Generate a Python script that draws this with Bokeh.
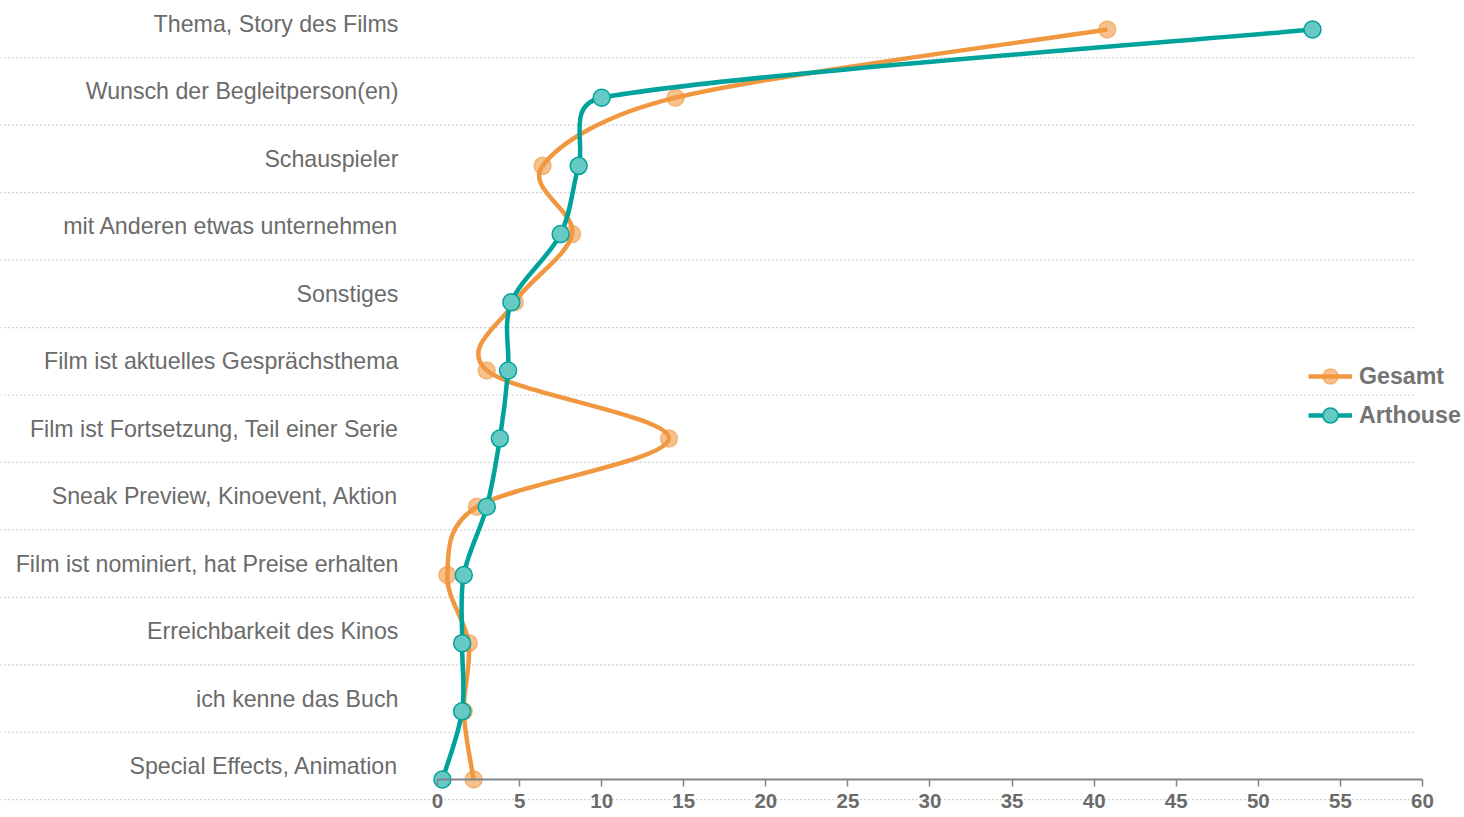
import math
from bokeh.plotting import figure
from bokeh.models import Range1d, LinearAxis, FixedTicker, Legend, LegendItem
from bokeh.core.properties import value
from bokeh.embed import file_html
from bokeh.resources import INLINE

# ---------------- data ----------------
categories = [
    "Thema, Story des Films",
    "Wunsch der Begleitperson(en)",
    "Schauspieler",
    "mit Anderen etwas unternehmen",
    "Sonstiges",
    "Film ist aktuelles Gesprächsthema",
    "Film ist Fortsetzung, Teil einer Serie",
    "Sneak Preview, Kinoevent, Aktion",
    "Film ist nominiert, hat Preise erhalten",
    "Erreichbarkeit des Kinos",
    "ich kenne das Buch",
    "Special Effects, Animation",
]
gesamt = [40.8, 14.5, 6.4, 8.2, 4.7, 3.0, 14.1, 2.4, 0.6, 1.9, 1.6, 2.2]
arthouse = [53.3, 10.0, 8.6, 7.5, 4.5, 4.3, 3.8, 3.0, 1.6, 1.5, 1.5, 0.3]
series_names = ["Gesamt", "Arthouse"]
x_ticks = [0, 5, 10, 15, 20, 25, 30, 35, 40, 45, 50, 55, 60]

# ---------------- styles ----------------
ORANGE = "#F0973F"
TEAL = "#00A39B"
TEAL_FILL = "#66C9C3"
GREY_TXT = "#6B6B6B"
AXIS_GREY = "#80858B"
GRID_GREY = "#A8A8A8"
FONT = "Liberation Sans"

W, H = 1464, 817
n = len(categories)
rows = list(range(n))

X0, X1 = -26.62, 62.56          # data x range
Y_BOT, Y_TOP = 11.557, -0.4253   # point rows (inverted)
SX = W / (X1 - X0)               # px per x unit
SY = H / (Y_BOT - Y_TOP)         # px per row

p = figure(width=W, height=H, output_backend="svg", toolbar_location=None,
           x_range=Range1d(X0, X1), y_range=Range1d(Y_BOT, Y_TOP),
           x_axis_location=None, y_axis_location=None,
           min_border=0, outline_line_color=None,
           background_fill_color="white", border_fill_color="white")
p.grid.visible = False
p.extra_y_ranges = {"cat": Range1d(11.764, -0.3484)}

# dotted category separators
grid_y = [i + 0.5 for i in rows]
p.segment(x0=[X0] * n, x1=[59.57] * n, y0=grid_y, y1=grid_y,
          y_range_name="cat", line_color=GRID_GREY, line_width=1.2,
          line_dash="1 3")

# category labels
p.text(x=[-2.38] * n, y=rows, text=categories, y_range_name="cat",
       text_align="right", text_baseline="middle",
       text_font=value(FONT), text_font_size="23.2px", text_color=GREY_TXT)


def bezier_parts(xs, ys):
    """Excel-like smoothed line: cardinal spline with arms capped at half a segment
    (computed in screen space)."""
    pts = [(x * SX, y * SY) for x, y in zip(xs, ys)]
    m = len(pts)

    def dist(a, b):
        return math.hypot(a[0] - b[0], a[1] - b[1])

    out = dict(x0=[], y0=[], x1=[], y1=[], cx0=[], cy0=[], cx1=[], cy1=[])
    for i in range(m - 1):
        pa = pts[i - 1] if i > 0 else pts[i]
        p1 = pts[i]
        p2 = pts[i + 1]
        pb = pts[i + 2] if i + 2 < m else pts[i + 1]
        d02 = dist(pa, p2)
        d13 = dist(p1, pb)
        d12 = dist(p1, p2)
        f0 = 1 / 6.0
        f3 = 1 / 6.0
        if d02 > 0 and d02 / 6.0 >= d12 / 2.0:
            f0 = d12 / d02 / 2.0
        if d13 > 0 and d13 / 6.0 >= d12 / 2.0:
            f3 = d12 / d13 / 2.0
        c1 = (p1[0] + (p2[0] - pa[0]) * f0, p1[1] + (p2[1] - pa[1]) * f0)
        c2 = (p2[0] - (pb[0] - p1[0]) * f3, p2[1] - (pb[1] - p1[1]) * f3)
        out["x0"].append(p1[0] / SX); out["y0"].append(p1[1] / SY)
        out["x1"].append(p2[0] / SX); out["y1"].append(p2[1] / SY)
        out["cx0"].append(c1[0] / SX); out["cy0"].append(c1[1] / SY)
        out["cx1"].append(c2[0] / SX); out["cy1"].append(c2[1] / SY)
    return out


# Gesamt
g_line = p.bezier(**bezier_parts(gesamt, rows), line_color=ORANGE, line_width=4.5)
g_pts = p.scatter(x=gesamt, y=rows, size=17, marker="circle",
                  fill_color=ORANGE, fill_alpha=0.6,
                  line_color=ORANGE, line_alpha=0.6, line_width=1.5)
# Arthouse
a_line = p.bezier(**bezier_parts(arthouse, rows), line_color=TEAL, line_width=4.5)
a_pts = p.scatter(x=arthouse, y=rows, size=17, marker="circle",
                  fill_color=TEAL_FILL, line_color=TEAL, line_width=1.5)

# x axis at the last row
xaxis = LinearAxis(fixed_location=n - 1, bounds=(0, 60),
                   ticker=FixedTicker(ticks=x_ticks, minor_ticks=[]))
xaxis.axis_line_color = AXIS_GREY
xaxis.axis_line_width = 2
xaxis.major_tick_line_color = AXIS_GREY
xaxis.major_tick_line_width = 1.5
xaxis.major_tick_out = 7
xaxis.major_tick_in = 0
xaxis.minor_tick_line_color = None
xaxis.major_label_standoff = 7
xaxis.major_label_text_font = FONT
xaxis.major_label_text_font_size = "20.5px"
xaxis.major_label_text_font_style = "bold"
xaxis.major_label_text_color = GREY_TXT
p.add_layout(xaxis, "below")

legend = Legend(items=[
    LegendItem(label=series_names[0], renderers=[g_line, g_pts]),
    LegendItem(label=series_names[1], renderers=[a_line, a_pts]),
], location=(1308, 383), orientation="vertical")
legend.background_fill_alpha = 0
legend.border_line_color = None
legend.padding = 0
legend.margin = 0
legend.spacing = 1
legend.glyph_width = 44
legend.glyph_height = 38
legend.label_height = 38
legend.label_standoff = 7
legend.label_text_font = FONT
legend.label_text_font_size = "23.2px"
legend.label_text_font_style = "bold"
legend.label_text_color = "#747474"
legend.label_text_baseline = "middle"
p.add_layout(legend, "center")

open("out.html", "w").write(file_html(p, INLINE))
